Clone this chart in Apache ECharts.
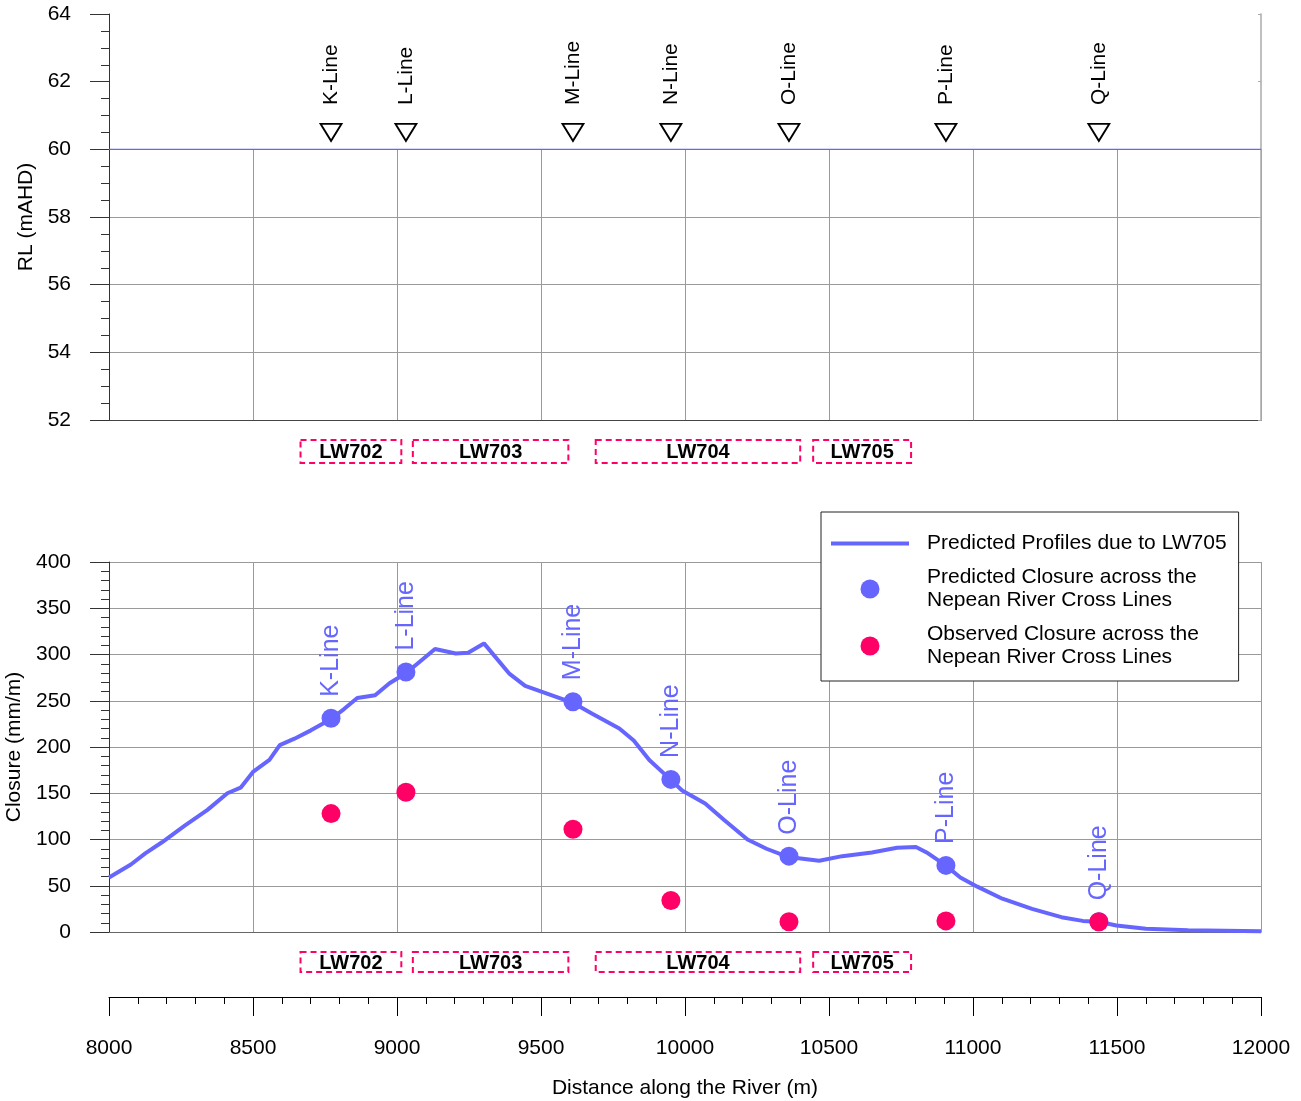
<!DOCTYPE html>
<html>
<head>
<meta charset="utf-8">
<script src="https://cdn.jsdelivr.net/npm/echarts@6/dist/echarts.min.js"></script>
<style>
html,body{margin:0;padding:0;background:#fff;}
#chart{width:1301px;height:1101px;}
</style>
</head>
<body>
<div id="chart"></div>
<script>
// ---- data ----
const crossLineNames = ['K-Line', 'L-Line', 'M-Line', 'N-Line', 'O-Line', 'P-Line', 'Q-Line'];
const crossLineDist = [8771, 9031, 9611, 9951, 10361, 10906, 11437];
const crossLineRL = [60.5, 60.5, 60.5, 60.5, 60.5, 60.5, 60.5];
const predictedClosure = [231, 281, 249, 165, 82, 72, 11];
const observedClosure = [128, 151, 111, 34, 11, 12, 11];

const riverLevelDist = [8000, 12000];
const riverLevelRL = [60, 60];

const profileDist = [8000, 8076, 8126, 8184, 8263, 8342, 8411, 8457, 8500, 8557, 8593, 8644, 8701, 8770, 8816, 8862, 8924, 8974, 9032, 9132, 9204, 9247, 9302, 9391, 9445, 9609, 9678, 9772, 9822, 9876, 9949, 9990, 10070, 10136, 10217, 10283, 10359, 10466, 10546, 10649, 10736, 10802, 10839, 10905, 10956, 11015, 11102, 11205, 11307, 11381, 11436, 11498, 11600, 11747, 12000];
const profileClosure = [59, 73, 85, 97, 115, 132, 150, 156, 173, 186, 202, 209, 218, 230, 241, 253, 256, 269, 280, 306, 301, 302, 312, 279, 266, 248, 236, 220, 207, 186, 165, 153, 139, 121, 100, 90, 81, 77, 82, 86, 91, 92, 86, 72, 59, 49, 36, 25, 16, 12, 11, 7, 3.6, 1.8, 0.7];

const panelNames = ['LW702', 'LW703', 'LW704', 'LW705'];
const panelStart = [8665, 9055, 9690, 10445];
const panelEnd = [9015, 9595, 10400, 10785];

// ---- styles ----
const FONT = "'Liberation Sans', Arial, sans-serif";
const BLUE = '#6666FF';
const PINK = '#FF0066';
const GRID = '#9a9a9a';
const AX = '#333';
const L = 109, R = 40;

const chart = echarts.init(document.getElementById('chart'), null, {renderer: 'canvas'});

const zip = (a, b) => a.map((v, i) => [v, b[i]]);
const panelData = panelStart.map((s, i) => [s, panelEnd[i], i]);

function renderPanel(params, api) {
  const p0 = api.coord([api.value(0), 1]);
  const p1 = api.coord([api.value(1), 0]);
  const name = panelNames[params.dataIndex];
  return {
    type: 'group',
    children: [
      {type: 'rect', shape: {x: p0[0], y: p0[1], width: p1[0] - p0[0], height: p1[1] - p0[1]},
        style: {fill: 'none', stroke: PINK, lineWidth: 2, lineDash: [6, 4]}},
      {type: 'text', style: {text: name, x: (p0[0] + p1[0]) / 2, y: (p0[1] + p1[1]) / 2 + 1,
        align: 'center', verticalAlign: 'middle', font: 'bold 20px ' + FONT, fill: '#000'}}
    ]
  };
}

const xBase = {min: 8000, max: 12000, interval: 500, type: 'value'};
const gBase = {left: L, right: R, outerBoundsMode: 'none', containLabel: false};

const option = {
  animation: false,
  backgroundColor: '#fff',
  textStyle: {fontFamily: FONT},
  grid: [
    Object.assign({top: 14, height: 406}, gBase),   // 0: top axes frame
    Object.assign({top: 149, height: 271}, gBase),  // 1: top gridlines (52-60)
    Object.assign({top: 562, height: 370}, gBase),  // 2: closure
    Object.assign({top: 987, height: 10}, gBase),   // 3: distance axis
    Object.assign({top: 440, height: 23}, gBase),   // 4: panels top
    Object.assign({top: 952, height: 20}, gBase)    // 5: panels bottom
  ],
  xAxis: [
    Object.assign({gridIndex: 0, show: false}, xBase),
    Object.assign({gridIndex: 1, axisLine: {lineStyle: {color: '#444', width: 1}}, axisTick: {show: false},
      axisLabel: {show: false}, splitLine: {show: true, lineStyle: {color: GRID, width: 1}}}, xBase),
    Object.assign({gridIndex: 2, axisLine: {lineStyle: {color: '#666', width: 1}}, axisTick: {show: false},
      axisLabel: {show: false}, splitLine: {show: true, lineStyle: {color: GRID, width: 1}}}, xBase),
    Object.assign({gridIndex: 3, position: 'bottom',
      axisLine: {lineStyle: {color: '#000', width: 1}},
      axisTick: {show: true, length: 19, lineStyle: {color: '#000'}},
      minorTick: {show: true, splitNumber: 5, length: 7, lineStyle: {color: '#000'}},
      axisLabel: {margin: 41, fontSize: 21, color: '#000', fontFamily: FONT, formatter: v => String(v)},
      splitLine: {show: false},
      name: 'Distance along the River (m)', nameLocation: 'middle', nameGap: 81,
      nameTextStyle: {fontSize: 21, color: '#000', fontFamily: FONT}}, xBase),
    Object.assign({gridIndex: 4, show: false}, xBase),
    Object.assign({gridIndex: 5, show: false}, xBase)
  ],
  yAxis: [
    {gridIndex: 0, type: 'value', min: 52, max: 64, interval: 2, position: 'left',
      axisLine: {show: true, lineStyle: {color: AX, width: 1}},
      axisTick: {show: true, length: 19, lineStyle: {color: AX}},
      minorTick: {show: true, splitNumber: 4, length: 8, lineStyle: {color: AX}},
      axisLabel: {margin: 38, fontSize: 21, color: '#000', fontFamily: FONT},
      splitLine: {show: false},
      name: 'RL (mAHD)', nameLocation: 'middle', nameGap: 70, nameRotate: 90,
      nameTextStyle: {fontSize: 21, color: '#000', fontFamily: FONT}},
    {gridIndex: 0, type: 'value', min: 52, max: 64, interval: 2, position: 'right',
      axisLine: {show: true, lineStyle: {color: '#aaa', width: 1.5}},
      axisTick: {show: true, inside: true, length: 3, lineStyle: {color: '#aaa'}},
      axisLabel: {show: false}, splitLine: {show: false}},
    {gridIndex: 1, type: 'value', min: 52, max: 60, interval: 2,
      axisLine: {show: false}, axisTick: {show: false}, axisLabel: {show: false},
      splitLine: {show: true, lineStyle: {color: GRID, width: 1}}},
    {gridIndex: 2, type: 'value', min: 0, max: 400, interval: 50,
      axisLine: {show: true, lineStyle: {color: AX, width: 1}},
      axisTick: {show: true, length: 19, lineStyle: {color: AX}},
      minorTick: {show: true, splitNumber: 5, length: 8, lineStyle: {color: AX}},
      axisLabel: {margin: 38, fontSize: 21, color: '#000', fontFamily: FONT},
      splitLine: {show: true, lineStyle: {color: GRID, width: 1}},
      name: 'Closure (mm/m)', nameLocation: 'middle', nameGap: 82, nameRotate: 90,
      nameTextStyle: {fontSize: 21, color: '#000', fontFamily: FONT}},
    {gridIndex: 3, type: 'value', min: 0, max: 1, show: false},
    {gridIndex: 4, type: 'value', min: 0, max: 1, show: false},
    {gridIndex: 5, type: 'value', min: 0, max: 1, show: false}
  ],
  legend: {
    show: true,
    left: 821, top: 512,
    orient: 'vertical',
    itemGap: 11,
    itemWidth: 78, itemHeight: 19,
    padding: [20, 12, 12, 10],
    backgroundColor: '#fff',
    borderColor: '#222', borderWidth: 1, borderRadius: 0,
    textStyle: {fontSize: 21, color: '#000', fontFamily: FONT, lineHeight: 23, padding: [0, 0, 0, 13]},
    data: [
      {name: 'Predicted Profiles due to LW705', icon: 'path://M0,0 L78,0 L78,4 L0,4 Z', itemStyle: {color: BLUE, opacity: 1}},
      {name: 'Predicted Closure across the\nNepean River Cross Lines', icon: 'circle', itemStyle: {color: BLUE, opacity: 1}},
      {name: 'Observed Closure across the\nNepean River Cross Lines', icon: 'circle', itemStyle: {color: PINK, opacity: 1}}
    ]
  },
  series: [
    {type: 'line', name: 'River level', xAxisIndex: 0, yAxisIndex: 0, data: zip(riverLevelDist, riverLevelRL),
      symbol: 'none', lineStyle: {color: BLUE, width: 1.2}, z: 5},
    {type: 'scatter', name: 'Cross lines', xAxisIndex: 0, yAxisIndex: 0, data: zip(crossLineDist, crossLineRL),
      symbol: 'path://M0,0 L22,0 L11,18 Z', symbolSize: [21, 17],
      itemStyle: {color: '#fff', borderColor: '#000', borderWidth: 1.8, opacity: 1},
      label: {show: true, position: 'top', distance: 18, rotate: 90, align: 'left', verticalAlign: 'middle',
        fontSize: 21, color: '#000', opacity: 1, fontFamily: FONT, formatter: p => crossLineNames[p.dataIndex]}, z: 6},
    {type: 'line', name: 'Predicted Profiles due to LW705', xAxisIndex: 2, yAxisIndex: 3,
      data: zip(profileDist, profileClosure), symbol: 'none',
      itemStyle: {color: BLUE}, lineStyle: {color: BLUE, width: 4}, z: 5},
    {type: 'scatter', name: 'Predicted Closure across the\nNepean River Cross Lines', xAxisIndex: 2, yAxisIndex: 3,
      data: zip(crossLineDist, predictedClosure), symbol: 'circle', symbolSize: 19,
      itemStyle: {color: BLUE, opacity: 1},
      label: {show: true, position: 'top', distance: 12, rotate: 90, align: 'left', verticalAlign: 'middle',
        fontSize: 25, color: BLUE, opacity: 1, fontFamily: FONT, formatter: p => crossLineNames[p.dataIndex]}, z: 6},
    {type: 'scatter', name: 'Observed Closure across the\nNepean River Cross Lines', xAxisIndex: 2, yAxisIndex: 3,
      data: zip(crossLineDist, observedClosure), symbol: 'circle', symbolSize: 19,
      itemStyle: {color: PINK, opacity: 1}, z: 7},
    {type: 'custom', name: 'Panels top', xAxisIndex: 4, yAxisIndex: 5, data: panelData,
      renderItem: renderPanel, clip: false},
    {type: 'custom', name: 'Panels bottom', xAxisIndex: 5, yAxisIndex: 6, data: panelData,
      renderItem: renderPanel, clip: false}
  ]
};
chart.setOption(option);
</script>
</body>
</html>
